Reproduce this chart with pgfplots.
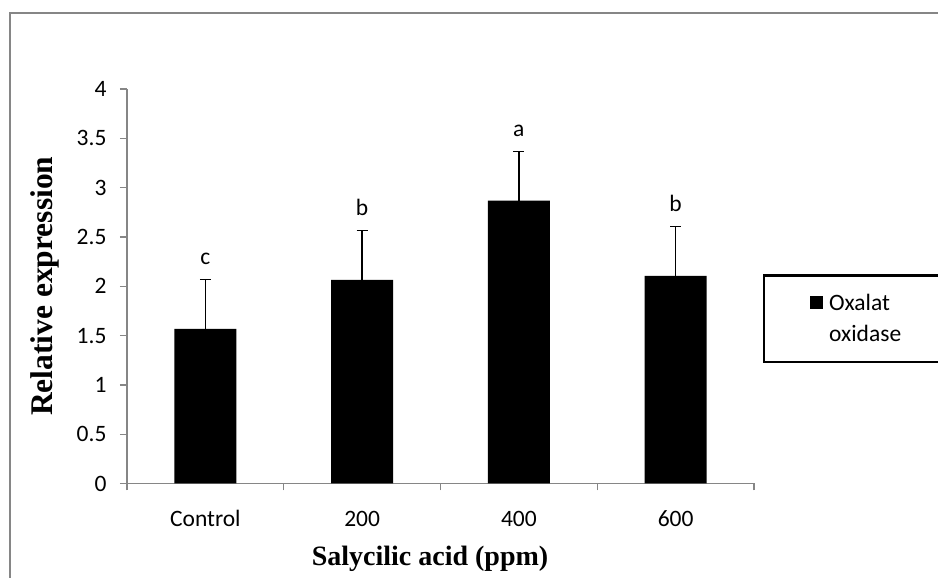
\documentclass[border=0pt]{standalone}
\usepackage{pgfplots}
\pgfplotsset{compat=1.18}
\usepackage{fontspec}
\setmainfont{Carlito}
\newfontfamily\timesfont{Liberation Serif}
\definecolor{axisgray}{HTML}{868686}

\begin{document}
\begin{tikzpicture}
\useasboundingbox (0pt,0pt) rectangle (938pt,578pt);
\clip (0pt,0pt) rectangle (938pt,578pt);
% outer chart frame
\draw[axisgray, line width=1.5pt] (10pt,-20pt) -- (10pt,565pt) -- (960pt,565pt);
\begin{axis}[
  at={(127pt,94.5pt)}, anchor=south west,
  scale only axis, width=627pt, height=394.5pt,
  xmin=-0.5, xmax=3.5, ymin=0, ymax=4,
  axis x line=bottom, axis y line=left,
  axis line style={axisgray, line width=1.3pt, -},
  xtick={0,1,2,3}, xticklabels={Control,200,400,600},
  minor xtick={-0.5,0.5,1.5,2.5,3.5},
  ytick={0,0.5,...,4},
  tick align=outside, major tick length=7pt, minor tick length=7pt,
  tick style={axisgray, line width=1.3pt},
  major x tick style={draw=none},
  /pgf/number format/assume math mode=true,
  ticklabel style={font=\fontsize{23.5}{28}\selectfont},
  yticklabel style={xshift=-10pt},
  xticklabel style={anchor=base, yshift=-36pt},
  xlabel={\timesfont\bfseries Salycilic acid (ppm)},
  ylabel={\timesfont\bfseries Relative expression},
  xlabel style={font=\fontsize{28}{32}\selectfont,
    at={(axis description cs:0.4833,-0.2066)}, anchor=base},
  ylabel style={font=\fontsize{31.5}{34}\selectfont,
    at={(axis description cs:-0.1196,0.5)}, anchor=base},
  legend style={at={(1.01435,0.531)}, anchor=north west, draw=black,
    line width=2.5pt, inner xsep=46pt, inner ysep=17pt,
    font=\fontsize{23.5}{31}\selectfont, cells={align=left}},
  legend cell align=left,
  legend image code/.code={
    \path[draw=none, fill=none] (0pt,9.5pt) -- (17pt,9.5pt);
    \fill[black, draw=none] (0pt,9.5pt) rectangle (13pt,22.5pt);},
]
\addplot[ybar, bar width=62pt, fill=black, draw=none,
  error bars/.cd, y dir=plus, y explicit,
  error bar style={black, line width=1.3pt},
  error mark options={rotate=90, mark size=5.5pt, black, line width=1.3pt}]
  coordinates {
    (0,1.567) +- (0,0.5)
    (1,2.065) +- (0,0.5)
    (2,2.868) +- (0,0.5)
    (3,2.104) +- (0,0.5)
  };
\addlegendentry{Oxalat\\oxidase\hspace*{40pt}}
% significance letters
\addplot[draw=none, mark=none, forget plot, nodes near coords,
  point meta=explicit symbolic,
  nodes near coords style={anchor=base, yshift=15pt, font=\fontsize{23.5}{28}\selectfont}]
  coordinates {
    (0,2.067) [c]
    (1,2.565) [b]
    (2,3.368) [a]
    (3,2.604) [b]
  };
\end{axis}
\end{tikzpicture}
\end{document}
